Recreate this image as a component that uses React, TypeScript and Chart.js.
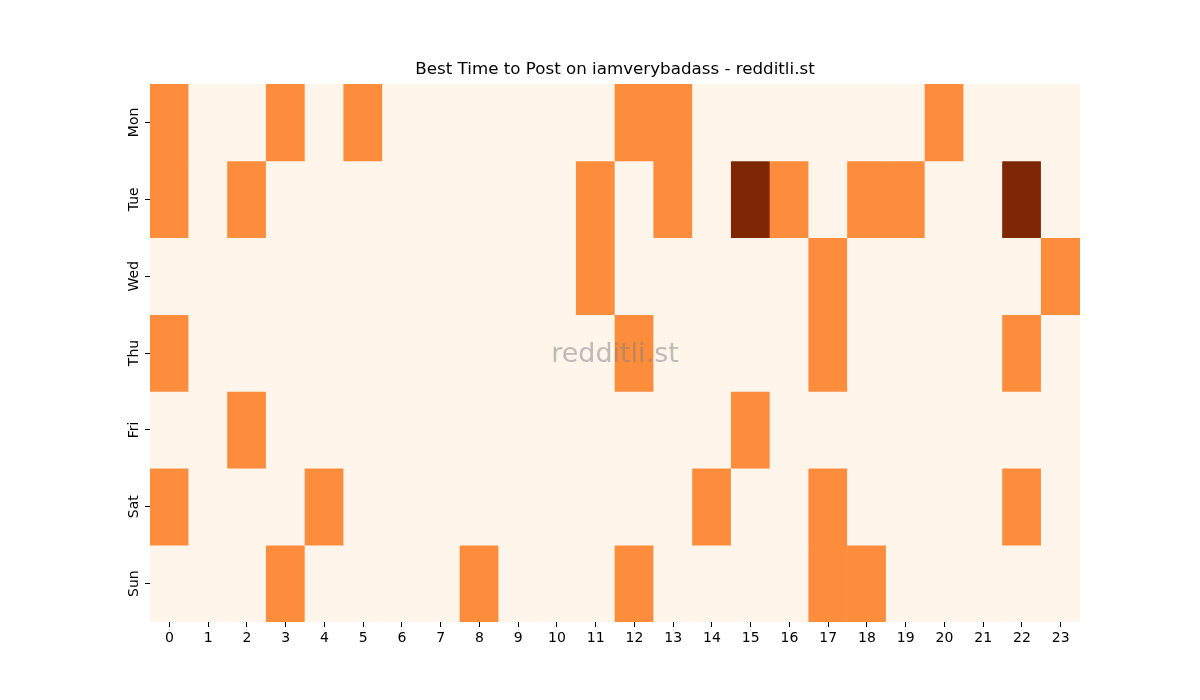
import { useEffect, useRef } from 'react'
import { Chart, registerables } from 'chart.js'

Chart.register(...registerables)

const hours = Array.from({ length: 24 }, (_, i) => String(i))
const days = ['Mon', 'Tue', 'Wed', 'Thu', 'Fri', 'Sat', 'Sun']

// post counts per hour, one row per day (0 / 1 / 2)
const mon = [1, 0, 0, 1, 0, 1, 0, 0, 0, 0, 0, 0, 1, 1, 0, 0, 0, 0, 0, 0, 1, 0, 0, 0]
const tue = [1, 0, 1, 0, 0, 0, 0, 0, 0, 0, 0, 1, 0, 1, 0, 2, 1, 0, 1, 1, 0, 0, 2, 0]
const wed = [0, 0, 0, 0, 0, 0, 0, 0, 0, 0, 0, 1, 0, 0, 0, 0, 0, 1, 0, 0, 0, 0, 0, 1]
const thu = [1, 0, 0, 0, 0, 0, 0, 0, 0, 0, 0, 0, 1, 0, 0, 0, 0, 1, 0, 0, 0, 0, 1, 0]
const fri = [0, 0, 1, 0, 0, 0, 0, 0, 0, 0, 0, 0, 0, 0, 0, 1, 0, 0, 0, 0, 0, 0, 0, 0]
const sat = [1, 0, 0, 0, 1, 0, 0, 0, 0, 0, 0, 0, 0, 0, 1, 0, 0, 1, 0, 0, 0, 0, 1, 0]
const sun = [0, 0, 0, 1, 0, 0, 0, 0, 1, 0, 0, 0, 1, 0, 0, 0, 0, 1, 1, 0, 0, 0, 0, 0]
const rows = [mon, tue, wed, thu, fri, sat, sun]

const palette = ['#fff5eb', '#fd8d3c', '#7f2704']
const font = 'DejaVu Sans'

const overlay = {
  id: 'overlay',
  afterDraw(chart: Chart) {
    const { ctx, chartArea } = chart
    const yScale = chart.scales.y
    const cx = (chartArea.left + chartArea.right) / 2
    ctx.save()
    ctx.textAlign = 'center'
    ctx.textBaseline = 'middle'
    ctx.fillStyle = 'rgba(128,128,128,0.5)'
    ctx.font = `27px "${font}"`
    ctx.fillText('redditli.st', cx, (chartArea.top + chartArea.bottom) / 2 + 2)
    ctx.fillStyle = '#000'
    ctx.font = `16.7px "${font}"`
    ctx.fillText('Best Time to Post on iamverybadass - redditli.st', cx, 70)
    // rotated day labels
    ctx.font = `14px "${font}"`
    days.forEach((d, i) => {
      const y = yScale.getPixelForValue(i + 0.5)
      ctx.save()
      ctx.translate(134, y)
      ctx.rotate(-Math.PI / 2)
      ctx.fillText(d, 0, 0)
      ctx.restore()
    })
    ctx.restore()
  },
}

export default function App() {
  const canvasRef = useRef<HTMLCanvasElement | null>(null)

  useEffect(() => {
    document.body.style.margin = '0'
    if (!canvasRef.current) return
    const ctx = canvasRef.current.getContext('2d')!

    const chart = new Chart(ctx, {
      type: 'bar',
      data: {
        labels: hours,
        datasets: rows.map((row, d) => ({
          label: days[d],
          data: row.map(() => [d, d + 1] as [number, number]),
          backgroundColor: row.map((v) => palette[v]),
          borderWidth: 0,
          barPercentage: 1,
          categoryPercentage: 1,
          grouped: false,
        })),
      },
      options: {
        animation: false,
        responsive: false,
        layout: { padding: { left: 0, right: 120, top: 84, bottom: 0 } },
        plugins: {
          legend: { display: false },
          tooltip: { enabled: false },
          title: { display: false },
        },
        scales: {
          x: {
            type: 'category',
            border: { display: false },
            grid: { offset: false, drawOnChartArea: false, drawTicks: true, tickLength: 5, color: '#000', tickWidth: 1 },
            ticks: { color: '#000', font: { family: font, size: 14 }, padding: 3, maxRotation: 0, autoSkip: false },
            afterFit: (s: any) => {
              s.height = 78
            },
          },
          y: {
            type: 'linear',
            min: 0,
            max: 7,
            reverse: true,
            border: { display: false },
            grid: { drawOnChartArea: false, drawTicks: true, tickLength: 5, color: '#000', tickWidth: 1 },
            afterBuildTicks: (s: any) => {
              s.ticks = days.map((_, i) => ({ value: i + 0.5 }))
            },
            ticks: { display: false },
            afterFit: (s: any) => {
              s.width = 150
            },
          },
        },
      },
      plugins: [overlay],
    })

    return () => chart.destroy()
  }, [])

  return (
    <div style={{ width: 1200, height: 700, background: '#fff' }}>
      <canvas ref={canvasRef} width={1200} height={700} style={{ width: 1200, height: 700 }} />
    </div>
  )
}
